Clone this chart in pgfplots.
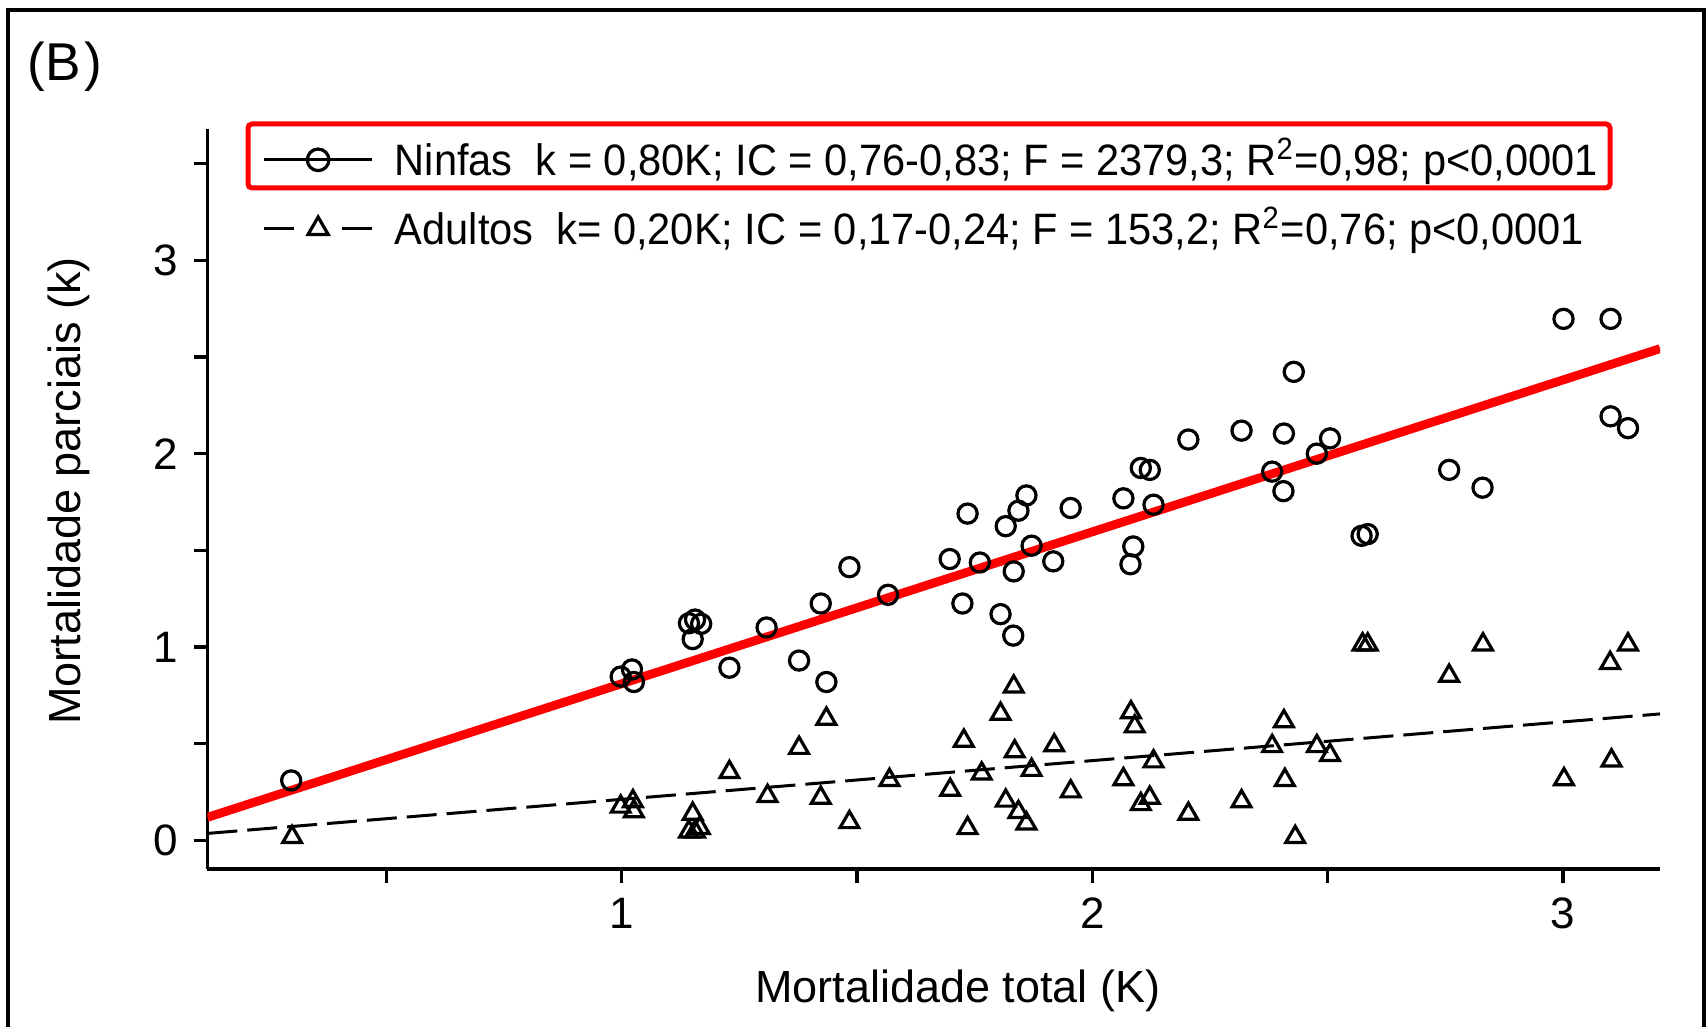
\documentclass[border=0pt]{standalone}
\usepackage{fontspec}
\setmainfont{Liberation Sans}
\newfontfamily\legfont[FakeStretch=0.945]{Liberation Sans}
\usepackage{pgfplots}
\pgfplotsset{compat=1.18}

\begin{document}
\begin{tikzpicture}
\fontsize{11}{13}\selectfont
% page = 1707 x 1027 px, 1 px = 0.25pt, origin at top left
\path[use as bounding box] (0,0) rectangle (426.75pt,-256.75pt);
\begin{scope}[x=0.25pt,y=-0.25pt]
  \draw[line width=0.8pt] (8,1027) -- (8,10) -- (1704,10) -- (1704,1027);
  \node[anchor=base west, inner sep=0pt, font=\fontsize{13.3}{15}\selectfont] at (27,81) {(B\kern1pt)};
\end{scope}

\begin{axis}[
  at={(51.85pt,-217.25pt)}, anchor=south west,
  scale only axis, width=363.15pt, height=185.05pt,
  xmin=0.12, xmax=3.206, ymin=-0.148, ymax=3.68,
  axis lines*=left,
  axis line style={line width=0.9pt},
  xtick={1,2,3}, minor xtick={0.5,1.5,2.5},
  ytick={0,1,2,3}, minor ytick={0.5,1.5,2.5,3.5},
  tick align=outside,
  major tick length=3.4pt, minor tick length=3.4pt,
  every tick/.style={black, line width=0.8pt},
  tick label style={font=\fontsize{11}{13}\selectfont},
  /pgf/number format/assume math mode=true,
  xlabel={Mortalidade total (K)},
  ylabel={Mortalidade parciais (k)},
  label style={font=\fontsize{11.25}{13}\selectfont},
  xlabel style={at={(axis description cs:0.5167,-0.181)}, anchor=base},
  ylabel style={at={(axis description cs:-0.0955,0.5107)}, anchor=center},
  legend style={at={(axis description cs:0.0292,1.0105)}, anchor=north west,
    draw=none, fill=none, font=\legfont\fontsize{11}{13}\selectfont, row sep=2.2pt},
  legend cell align=left,
  legend image code/.code={\draw[mark repeat=2,mark phase=2,#1] plot coordinates {(0pt,0pt) (13.5pt,0pt) (27pt,0pt)};},
]
% Ninfas
\addplot[only marks, mark=o, mark size=2.4pt, mark options={line width=0.8pt}, forget plot] coordinates {
(0.298,0.31) (0.998,0.847) (1.022,0.884) (1.026,0.819) (1.143,1.123)
(1.156,1.142) (1.169,1.12) (1.151,1.041) (1.229,0.893) (1.308,1.101)
(1.377,0.93) (1.423,1.225) (1.435,0.819) (1.484,1.413) (1.566,1.27)
(1.697,1.455) (1.724,1.225) (1.735,1.69) (1.761,1.437) (1.805,1.17)
(1.816,1.625) (1.832,1.059) (1.833,1.391) (1.843,1.705) (1.86,1.784)
(1.871,1.524) (1.917,1.443) (1.954,1.719) (2.066,1.769) (2.081,1.428)
(2.087,1.52) (2.103,1.926) (2.122,1.916) (2.13,1.736) (2.204,2.073)
(2.317,2.119) (2.382,1.907) (2.406,1.806) (2.407,2.104) (2.428,2.423)
(2.477,2.0) (2.505,2.079) (2.572,1.575) (2.585,1.584) (2.758,1.916)
(2.829,1.824) (3.001,2.697) (3.101,2.697) (3.101,2.193) (3.138,2.132)
};
% Adultos
\addplot[only marks, mark=triangle, mark size=2.7pt, mark options={line width=0.8pt}, forget plot] coordinates {
(0.3,0.017) (0.998,0.174) (1.024,0.202) (1.026,0.15) (1.151,0.137)
(1.143,0.045) (1.156,0.045) (1.166,0.064) (1.229,0.353) (1.31,0.229)
(1.377,0.478) (1.423,0.22) (1.435,0.629) (1.484,0.094) (1.569,0.312)
(1.698,0.261) (1.727,0.515) (1.735,0.063) (1.765,0.345) (1.805,0.654)
(1.816,0.205) (1.833,0.795) (1.835,0.46) (1.843,0.146) (1.86,0.087)
(1.871,0.364) (1.919,0.491) (1.954,0.253) (2.066,0.316) (2.082,0.662)
(2.09,0.589) (2.103,0.187) (2.122,0.22) (2.13,0.408) (2.204,0.137)
(2.317,0.202) (2.382,0.487) (2.407,0.616) (2.409,0.312) (2.431,0.017)
(2.477,0.487) (2.505,0.441) (2.574,1.013) (2.585,1.013) (2.758,0.851)
(2.83,1.013) (3.002,0.316) (3.10,0.917) (3.103,0.413) (3.138,1.013)
};
% fitted lines
\addplot[black, line width=0.75pt, dash pattern=on 7.5pt off 2.5pt, forget plot] coordinates {(0.12,0.036) (3.206,0.654)};
\addplot[black, line width=0.8pt, forget plot] coordinates {(0.12,0.119) (3.206,2.543)};
\addplot[red, line width=2.2pt, forget plot] coordinates {(0.12,0.119) (3.206,2.543)};

\addlegendimage{black, line width=0.75pt, mark=o, mark size=2.7pt, mark options={solid, line width=0.8pt}}
\addlegendentry{\hspace{3.3pt}Ninfas\ \ k = 0,80K; IC = 0,76-0,83; F = 2379,3; R\textsuperscript{2}=0,98; p<0,0001}
\addlegendimage{black, line width=0.75pt, dash pattern=on 7.5pt off 12pt, mark=triangle, mark size=2.9pt, mark options={solid, line width=0.8pt}}
\addlegendentry{\hspace{3.3pt}Adultos\ \ k= 0,20K; IC = 0,17-0,24; F = 153,2; R\textsuperscript{2}=0,76; p<0,0001}
\end{axis}

\begin{scope}[x=0.25pt,y=-0.25pt]
  \draw[red, line width=1.25pt, rounded corners=1pt] (248,124) rectangle (1610,188);
\end{scope}
\end{tikzpicture}
\end{document}
